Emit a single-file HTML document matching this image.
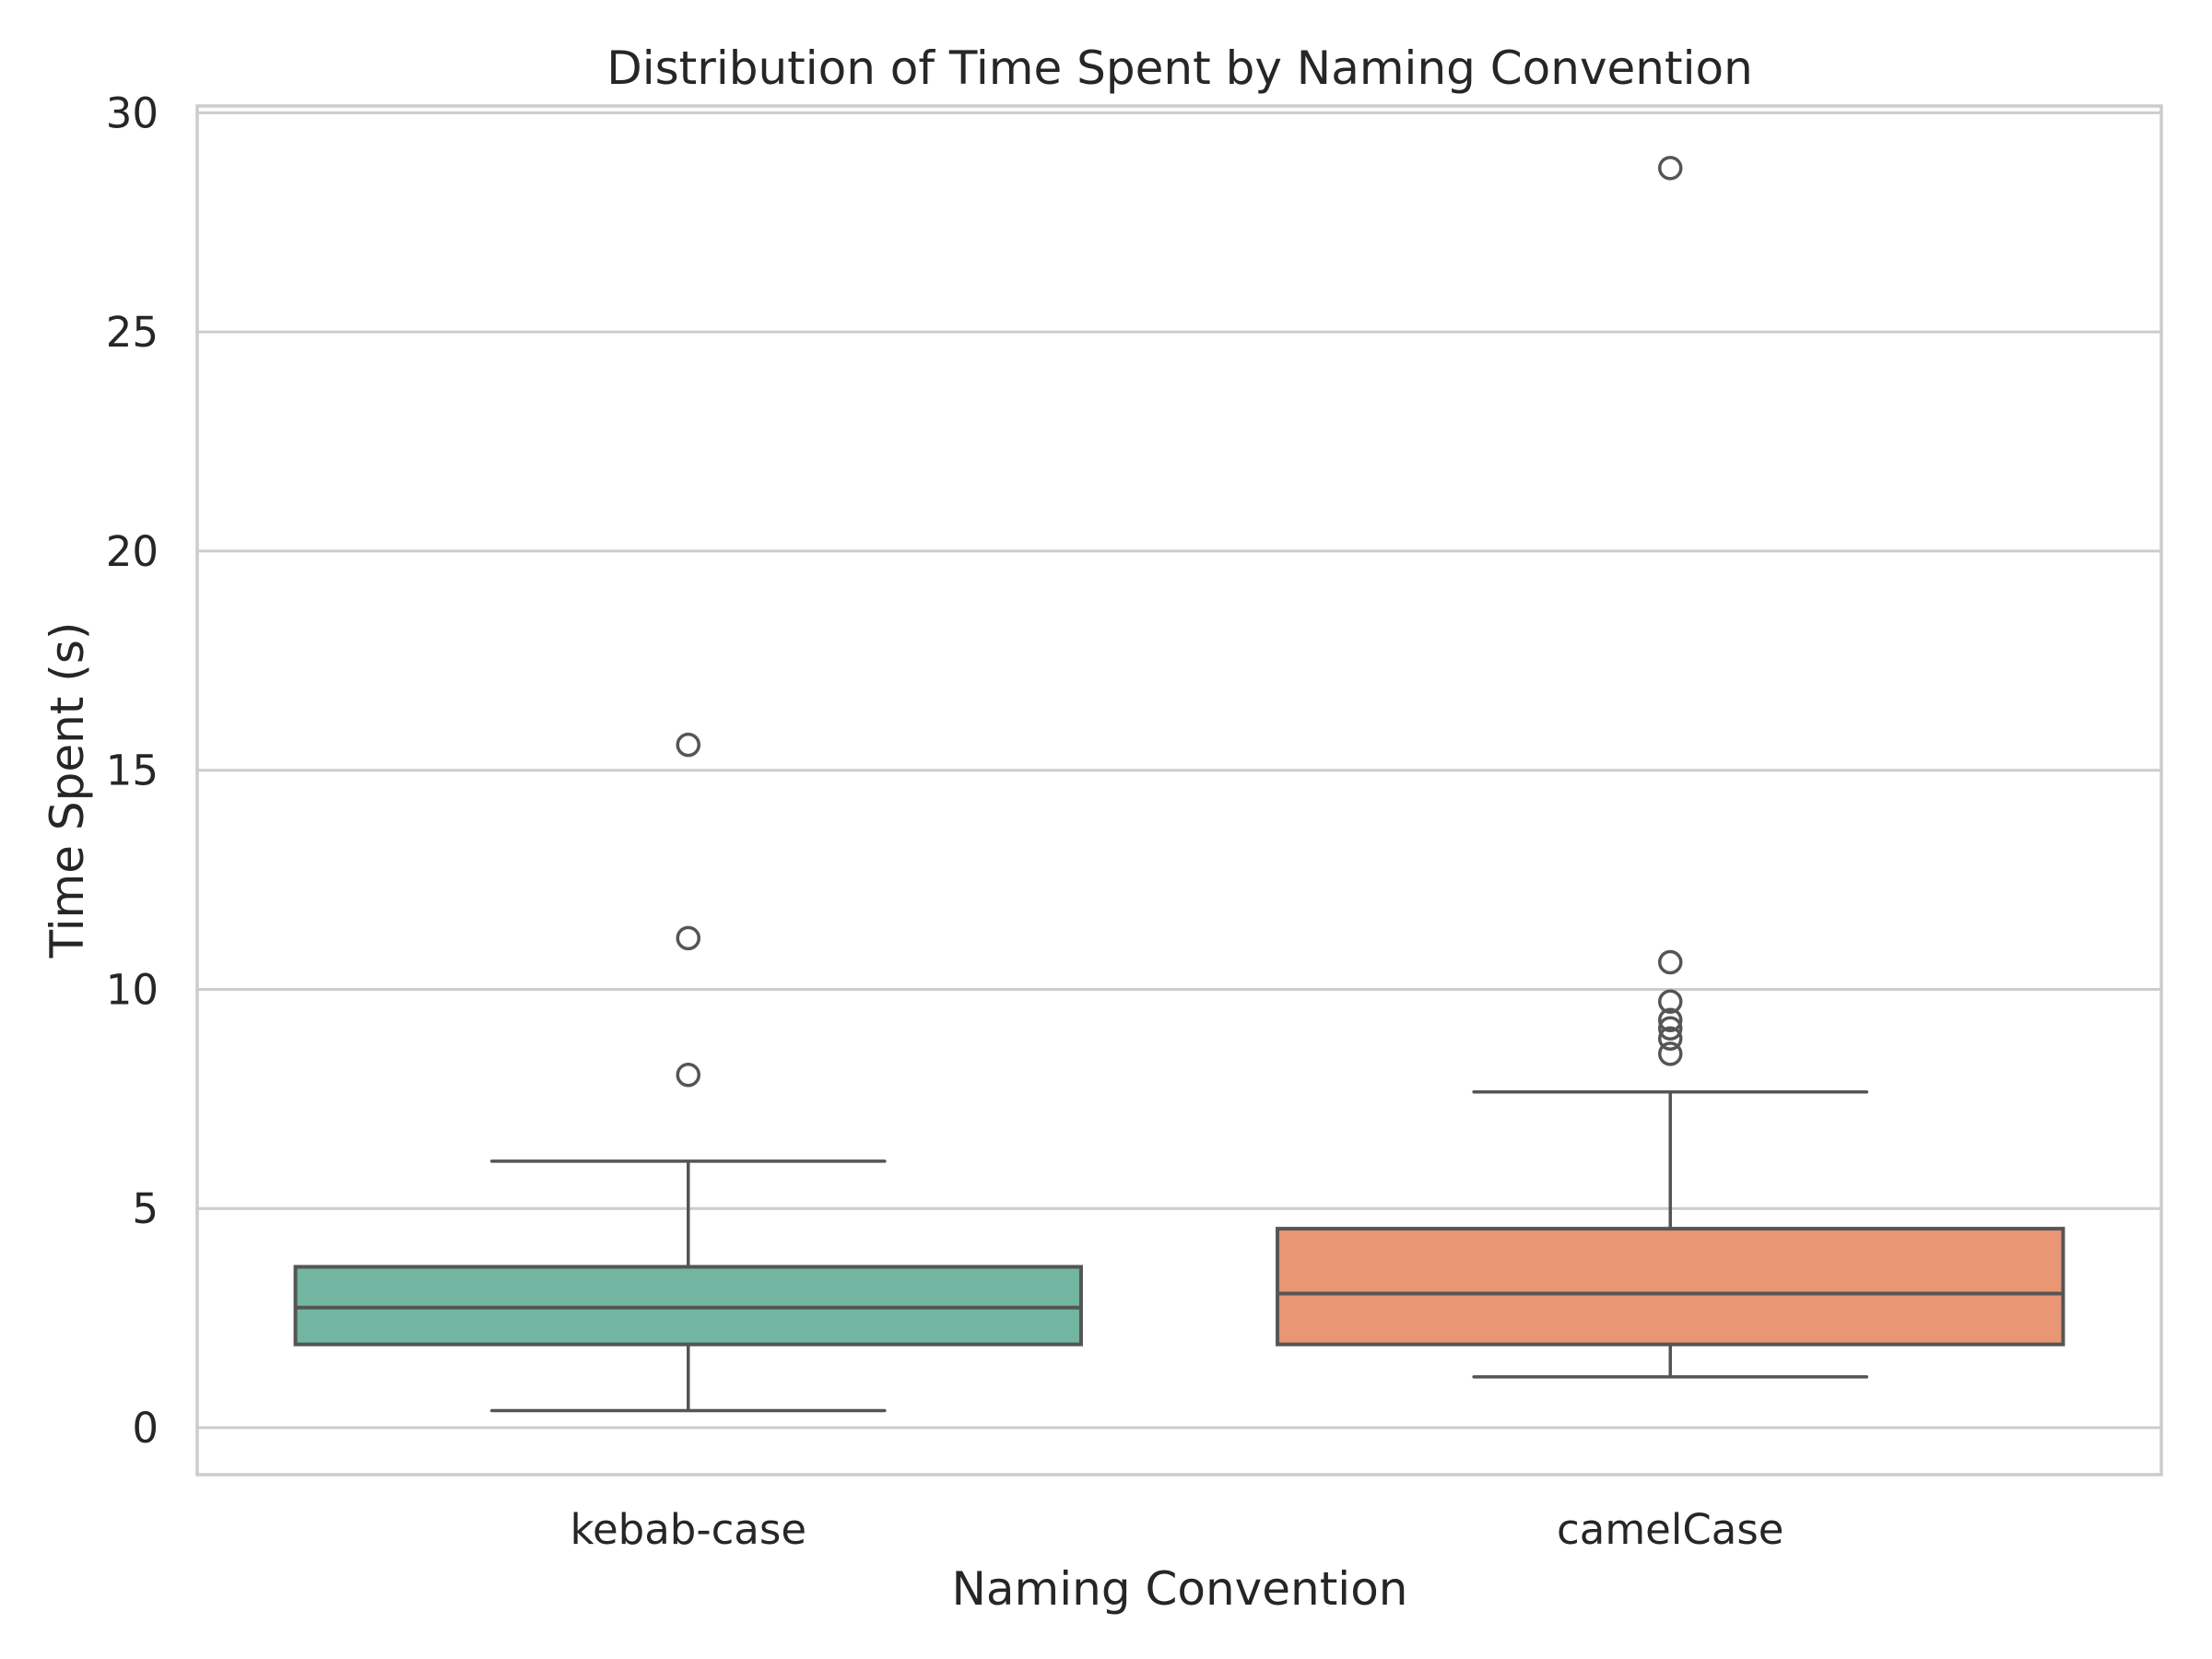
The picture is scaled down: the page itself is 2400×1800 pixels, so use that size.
<!DOCTYPE html>
<html><head><meta charset="utf-8"><style>
html,body{margin:0;padding:0;background:#fff;}
svg{display:block;font-family:"DejaVu Sans","Liberation Sans",sans-serif;}
</style></head><body>
<svg id="chart" width="2400" height="1800" viewBox="0 0 2400 1800" xmlns="http://www.w3.org/2000/svg">
<rect x="0" y="0" width="2400" height="1800" fill="#fff"/>
<g id="grid"></g>
<g id="yticks"></g>
<g id="boxes"></g>
<rect x="214" y="115" width="2131" height="1485" fill="none" stroke="#cccccc" stroke-width="3.5"/>
<text x="1280" y="91" text-anchor="middle" font-size="50" fill="#262626">Distribution of Time Spent by Naming Convention</text>
<text x="1280" y="1741" text-anchor="middle" font-size="50" fill="#262626">Naming Convention</text>
<text transform="translate(90,857) rotate(-90)" text-anchor="middle" font-size="50" fill="#262626">Time Spent (s)</text>
<g id="xticks"></g>
</svg>
<script>
const categories = ["kebab-case", "camelCase"];
const whiskerLow = [0.39, 1.16];
const q1 = [1.90, 1.90];
const median = [2.74, 3.06];
const q3 = [3.67, 4.54];
const whiskerHigh = [6.08, 7.66];
const outliersKebab = [8.05, 11.17, 15.58];
const outliersCamel = [10.62, 9.72, 9.30, 9.11, 8.88, 8.53, 28.74];
const yTicks = [0, 5, 10, 15, 20, 25, 30];
const colors = ["#72b6a1", "#e99675"];

const NS = "http://www.w3.org/2000/svg";
const plotL = 214, plotR = 2345;
const y0px = 1549, y30px = 122.4;
function y(v){ return y0px + (y30px - y0px) * v / 30; }
const bandW = (plotR - plotL) / categories.length;
function xc(i){ return plotL + bandW * (i + 0.5); }
function el(tag, attrs, parent){ const e = document.createElementNS(NS, tag); for (const k in attrs) e.setAttribute(k, attrs[k]); parent.appendChild(e); return e; }

const grid = document.getElementById('grid'), yt = document.getElementById('yticks');
yTicks.forEach(t => {
  const l = el('line', {x1: plotL, x2: plotR, y1: y(t), y2: y(t), stroke: '#cccccc', 'stroke-width': 3}, grid);
  
  
  const tx = el('text', {x: 172, y: y(t) + 16, 'text-anchor': 'end', 'font-size': 45, fill: '#262626'}, yt);
  tx.textContent = t;
  
  
});

const xt = document.getElementById('xticks');
categories.forEach((c, i) => {
  const tx = el('text', {x: xc(i), y: 1675, 'text-anchor': 'middle', 'font-size': 45, fill: '#262626'}, xt);
  tx.textContent = c;
  
  
});

const boxes = document.getElementById('boxes');
const outliers = [outliersKebab, outliersCamel];
const edge = '#555555';
categories.forEach((c, i) => {
  const g = el('g', {}, boxes);
  
  
  const cx = xc(i), bw = bandW * 0.8, cw = bw / 2;
  el('line', {x1: cx, x2: cx, y1: y(whiskerLow[i]), y2: y(q1[i]), stroke: edge, 'stroke-width': 3.5}, g);
  el('line', {x1: cx, x2: cx, y1: y(q3[i]), y2: y(whiskerHigh[i]), stroke: edge, 'stroke-width': 3.5}, g);
  el('line', {x1: cx - cw/2, x2: cx + cw/2, y1: y(whiskerLow[i]), y2: y(whiskerLow[i]), stroke: edge, 'stroke-width': 3.5, 'stroke-linecap': 'round'}, g);
  el('line', {x1: cx - cw/2, x2: cx + cw/2, y1: y(whiskerHigh[i]), y2: y(whiskerHigh[i]), stroke: edge, 'stroke-width': 3.5, 'stroke-linecap': 'round'}, g);
  el('rect', {x: cx - bw/2, y: y(q3[i]), width: bw, height: y(q1[i]) - y(q3[i]), fill: colors[i], stroke: edge, 'stroke-width': 4}, g);
  el('line', {x1: cx - bw/2, x2: cx + bw/2, y1: y(median[i]), y2: y(median[i]), stroke: edge, 'stroke-width': 4}, g);
  outliers[i].forEach(v => {
    const o = el('circle', {cx: cx, cy: y(v), r: 11.5, fill: 'none', stroke: edge, 'stroke-width': 3.5}, g);
    
    
  });
});
</script>
</body></html>
